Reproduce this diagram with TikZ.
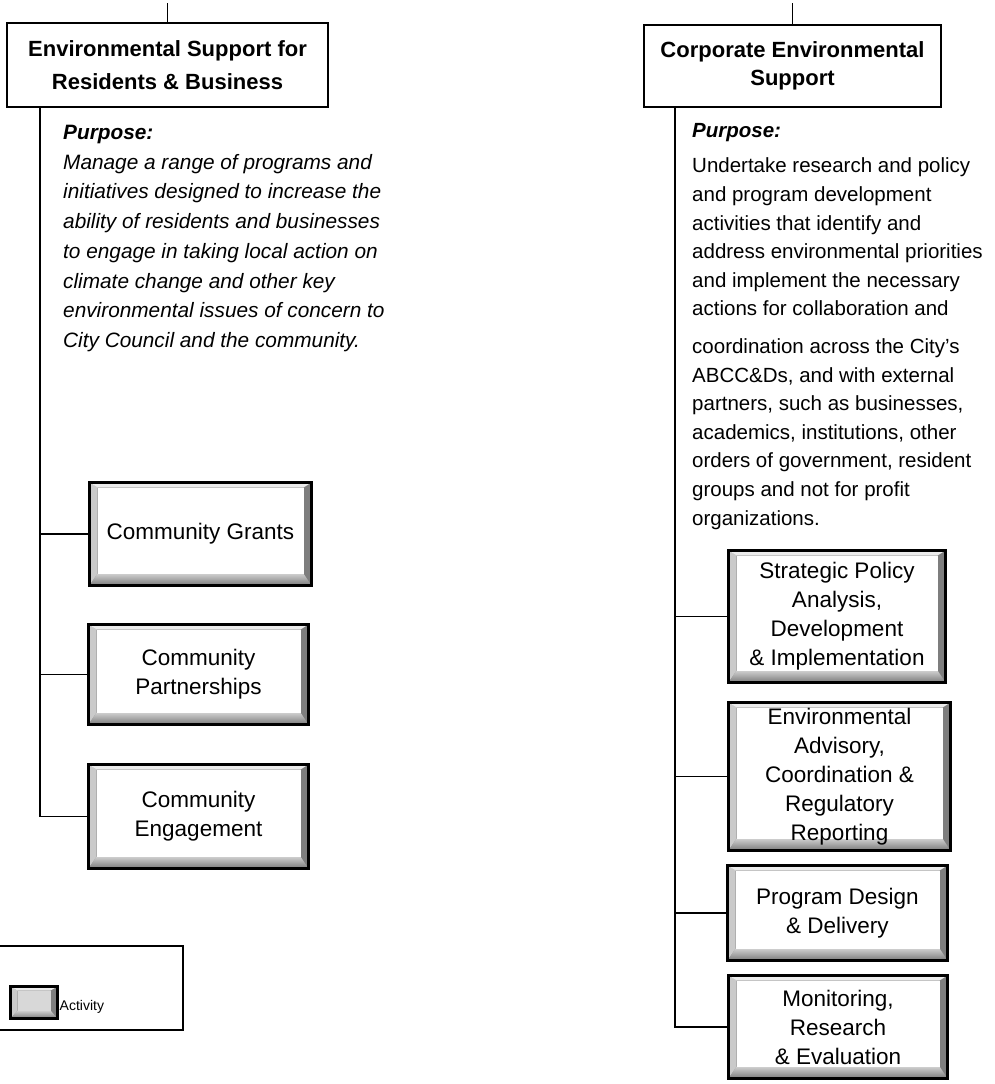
\documentclass[tikz,border=0pt]{standalone}
\usepackage{fontspec}
\setmainfont{Liberation Sans}
\definecolor{bvL}{HTML}{CACACA}
\definecolor{bvT}{HTML}{ECECEC}
\definecolor{bvR}{HTML}{7E7E7E}
\definecolor{bvBa}{HTML}{D0D0D0}
\definecolor{bvBb}{HTML}{7A7A7A}
\definecolor{bvF}{HTML}{FFFFFF}
\definecolor{bvFm}{HTML}{D8D8D8}
\newcommand\mybevel[5]{%
  \coordinate (bvA) at (path picture bounding box.south west);
  \coordinate (bvC) at (path picture bounding box.north east);
  \coordinate (bva) at ([shift={(#1pt,#4pt)}]bvA);
  \coordinate (bvc) at ([shift={(-#3pt,-#2pt)}]bvC);
  \fill[bvR] (bvA) rectangle (bvC);
  \fill[bvL] (bvA) -- (bvA |- bvC) -- (bva |- bvc) -- (bva) -- cycle;
  \fill[bvT] (bvA |- bvC) -- (bvC) -- (bvc) -- (bva |- bvc) -- cycle;
  \shade[top color=bvBa, bottom color=bvBb] (bvA) -- (bvC |- bvA) -- (bvc |- bva) -- (bva) -- cycle;
  \fill[#5] (bva) rectangle (bvc);
}
\tikzset{
  actbox/.style={draw=black, line width=3.2pt, inner sep=2pt, align=center,
    font=\fontsize{22.5}{29}\selectfont, path picture={\mybevel{8}{5}{8}{12}{bvF}}},
  minibox/.style={draw=black, line width=2.8pt, inner sep=0pt,
    path picture={\mybevel{7}{4}{7}{8}{bvFm}}},
  titlebox/.style={draw=black, line width=1.4pt, align=center, inner sep=0pt},
  conn/.style={draw=black, line width=1.7pt},
  legendbox/.style={draw=black, line width=1.4pt, inner sep=0pt},
  purp/.style={align=left, anchor=north west, inner sep=0pt},
}
\begin{document}
\begin{tikzpicture}[x=1pt,y=-1pt]
\useasboundingbox (0,0) rectangle (995,1084);

% titles
\node[titlebox, minimum width=321pt, minimum height=84pt,
  font=\fontsize{22}{33}\selectfont\bfseries] (lt) at (167.5,65)
  {Environmental Support for\\Residents \& Business};
\node[titlebox, minimum width=297pt, minimum height=82pt,
  font=\fontsize{22}{28}\selectfont\bfseries] (rt) at (792.5,66)
  {Corporate Environmental\\Support};
\coordinate (tl) at (167.5,3);
\coordinate (tr) at (792.5,3);
\draw[conn, line width=1.4pt] (tl) -- (lt.north);
\draw[conn, line width=1.4pt] (tr) -- (rt.north);

% purpose texts
\node[purp, font=\fontsize{20.8}{29.7}\selectfont\itshape] (lp) at (63,125)
  {{\bfseries Purpose:}\\
   Manage a range of programs and\\
   initiatives designed to increase the\\
   ability of residents and businesses\\
   to engage in taking local action on\\
   climate change and other key\\
   environmental issues of concern to\\
   City Council and the community.};
\node[purp, font=\fontsize{20.5}{28.6}\selectfont] (rp) at (692,123)
  {{\bfseries\itshape Purpose:}\\[7pt]
   Undertake research and policy\\
   and program development\\
   activities that identify and\\
   address environmental priorities\\
   and implement the necessary\\
   actions for collaboration and\\[9pt]
   coordination across the City’s\\
   ABCC\&Ds, and with external\\
   partners, such as businesses,\\
   academics, institutions, other\\
   orders of government, resident\\
   groups and not for profit\\
   organizations.};

% left activities
\node[actbox, minimum width=222pt, minimum height=103pt] (gr) at (200.5,534) {Community Grants};
\node[actbox, minimum width=220pt, minimum height=100pt] (pa) at (198.5,674.5) {Community\\Partnerships};
\node[actbox, minimum width=220pt, minimum height=104pt] (en) at (198.5,816.5) {Community\\Engagement};
\coordinate (lx) at (40,0);
\draw[conn] (lt.south -| lx) |- (en.west);
\draw[conn] (lx |- gr.west) -- (gr.west);
\draw[conn] (lx |- pa.west) -- (pa.west);

% right activities
\node[actbox, minimum width=217pt, minimum height=132pt] (sp) at (837,616.5) {Strategic Policy\\Analysis,\\Development\\\& Implementation};
\node[actbox, minimum width=222pt, minimum height=148pt] (ea) at (839.5,776.5) {Environmental\\Advisory,\\Coordination \&\\Regulatory\\Reporting};
\node[actbox, minimum width=220pt, minimum height=95pt] (pd) at (837.5,913) {Program Design\\\& Delivery};
\node[actbox, minimum width=219pt, minimum height=103pt] (mo) at (838,1027) {Monitoring,\\Research\\\& Evaluation};
\coordinate (rx) at (675,0);
\draw[conn] (rt.south -| rx) |- (mo.west);
\draw[conn] (rx |- sp.west) -- (sp.west);
\draw[conn] (rx |- ea.west) -- (ea.west);
\draw[conn] (rx |- pd.west) -- (pd.west);

% legend
\node[legendbox, minimum width=188pt, minimum height=84pt] (leg) at (89,988) {};
\node[minibox, minimum width=47pt, minimum height=32pt] (icon) at (34,1002.5) {};
\node[anchor=west, inner sep=0pt, font=\fontsize{14}{16}\selectfont] (act) at (59.5,1007) {Activity};
\end{tikzpicture}
\end{document}
